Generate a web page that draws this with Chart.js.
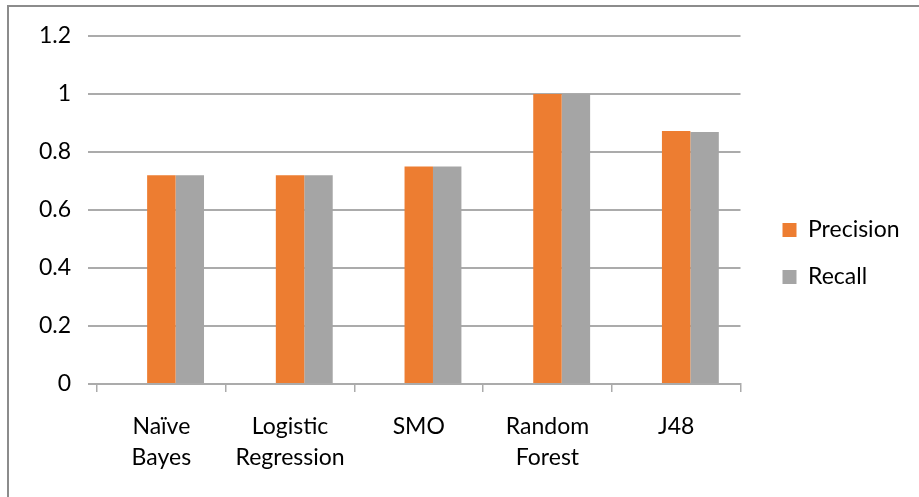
<!DOCTYPE html>
<html>
<head>
<meta charset="utf-8">
<script src="https://cdn.jsdelivr.net/npm/chart.js@4.4.1/dist/chart.umd.min.js"></script>
<style>
  html, body { margin: 0; padding: 0; background: #fff; overflow: hidden; }
  #wrap { position: relative; width: 919px; height: 497px; overflow: hidden; }
  #wrap canvas { position: absolute; left: 0; top: 0; }
  #frame { position: absolute; left: 7px; top: 5px; width: 1000px; height: 1000px;
           border: 2px solid #8c8c8c; box-sizing: border-box; pointer-events: none; }
</style>
</head>
<body>
<div id="wrap">
  <canvas id="chart" width="919" height="497"></canvas>
  <div id="frame"></div>
</div>
<script>
// Classifier categories (multi-line labels wrap like the axis text)
const categories = [['Naïve', 'Bayes'], ['Logistic', 'Regression'], 'SMO', ['Random', 'Forest'], 'J48'];
// Series values
const precision = [0.72, 0.72, 0.75, 1.0, 0.872];
const recall = [0.72, 0.72, 0.75, 1.0, 0.869];
// Empty leading column: keeps a reserved slot in every group
const emptyColumn = [null, null, null, null, null];
// Value axis labels
const yTickLabels = ['0', '0.2', '0.4', '0.6', '0.8', '1', '1.2'];

const GRID = '#ababab';
const TEXT = '#000000';
const FONT = { family: 'Lato', size: 23 };

Chart.defaults.font.family = 'Lato';
Chart.defaults.font.size = 23;

new Chart(document.getElementById('chart'), {
  type: 'bar',
  data: {
    labels: categories,
    datasets: [
      { label: '', data: emptyColumn, backgroundColor: 'rgba(0,0,0,0)' },
      { label: 'Precision', data: precision, backgroundColor: '#ED7D31' },
      { label: 'Recall', data: recall, backgroundColor: '#A5A5A5' }
    ]
  },
  options: {
    responsive: false,
    animation: false,
    categoryPercentage: 0.663,
    barPercentage: 1,
    layout: { padding: { left: 0, top: 36, right: 9.5, bottom: 26 } },
    plugins: {
      tooltip: { enabled: false },
      legend: {
        position: 'right',
        labels: {
          boxWidth: 14,
          boxHeight: 14,
          padding: 24,
          color: TEXT,
          font: FONT,
          filter: item => item.text !== ''
        }
      }
    },
    scales: {
      x: {
        offset: true,
        grid: { offset: true, drawOnChartArea: false, drawTicks: true, tickLength: 8, color: GRID, lineWidth: 1.5 },
        border: { color: GRID, width: 2 },
        ticks: { padding: 19, color: TEXT, font: { family: 'Lato', size: 23, lineHeight: 1.35 }, maxRotation: 0, autoSkip: false },
        afterFit: s => { s.height = 87; }
      },
      y: {
        min: 0,
        max: 1.2,
        ticks: { stepSize: 0.2, padding: 17, color: TEXT, font: FONT, callback: (v, i) => yTickLabels[i] },
        grid: { color: GRID, lineWidth: 2, tickLength: 9 },
        border: { display: false },
        afterFit: s => { s.width = 97; }
      },
      gap: {
        type: 'linear',
        axis: 'y',
        position: 'right',
        display: true,
        grid: { display: false },
        border: { display: false },
        ticks: { display: false },
        afterFit: s => { s.width = 18; }
      }
    }
  }
});
</script>
</body>
</html>
